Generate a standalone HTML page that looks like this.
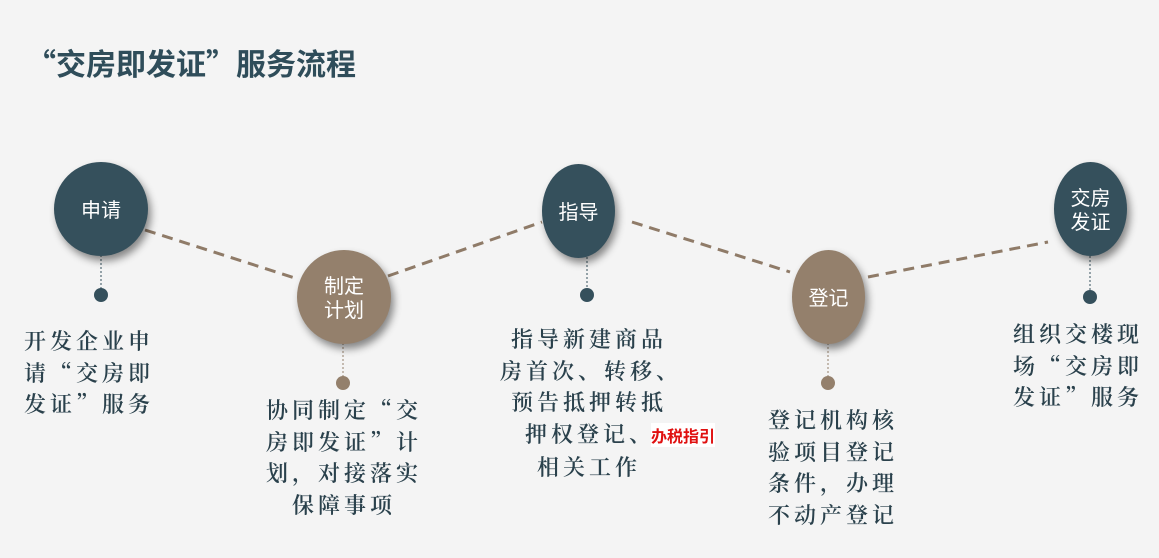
<!DOCTYPE html>
<html><head><meta charset="utf-8"><style>
body{margin:0;width:1159px;height:558px;overflow:hidden;background:#f4f4f4;font-family:"Liberation Sans","Noto Serif CJK SC","Noto Sans CJK SC",serif;}
.t{position:absolute;color:#2a414c;font-size:22px;line-height:31.5px;letter-spacing:4px;font-family:"Noto Serif CJK SC","WenQuanYi Zen Hei",serif;white-space:nowrap;font-weight:600}
.c{position:absolute;color:#fff;font-size:20px;line-height:24px;text-align:center;font-family:"Noto Sans CJK SC",sans-serif;display:flex;align-items:center;justify-content:center;border-radius:50%;box-shadow:3px 5px 8px rgba(0,0,0,.45)}
.d{background:#35505c}.b{background:#94806c}
</style></head><body>
<div style="position:absolute;left:26px;top:40px;font-size:30px;font-weight:bold;color:#2f4d5a;font-family:'Noto Sans CJK SC',sans-serif;">“交房即发证”服务流程</div>
<svg width="1159" height="558" style="position:absolute;left:0;top:0">
<g stroke="#8f7b68" stroke-width="3" stroke-dasharray="11,7" fill="none">
<line x1="145" y1="230" x2="298" y2="279"/>
<line x1="388" y1="276" x2="542" y2="222"/>
<line x1="632" y1="222" x2="790" y2="272"/>
<line x1="868" y1="277" x2="1048" y2="242"/>
</g>
<g stroke-width="1" stroke-dasharray="2,2">
<line x1="101" y1="255" x2="101" y2="293" stroke="#35505c"/>
<line x1="343" y1="343" x2="343" y2="381" stroke="#94806c"/>
<line x1="587" y1="257" x2="587" y2="293" stroke="#35505c"/>
<line x1="828" y1="343" x2="828" y2="381" stroke="#94806c"/>
<line x1="1090" y1="256" x2="1090" y2="295" stroke="#35505c"/>
</g>
<circle cx="101" cy="295" r="7" fill="#35505c"/>
<circle cx="343" cy="383" r="7" fill="#94806c"/>
<circle cx="587" cy="295" r="7" fill="#35505c"/>
<circle cx="828" cy="383" r="7" fill="#94806c"/>
<circle cx="1090" cy="297" r="7" fill="#35505c"/>
</svg>
<div class="c d" style="left:54px;top:162px;width:94px;height:94px">申请</div>
<div class="c b" style="left:297px;top:250px;width:94px;height:94px">制定<br>计划</div>
<div class="c d" style="left:542px;top:164px;width:73px;height:94px">指导</div>
<div class="c b" style="left:792px;top:250px;width:73px;height:94px">登记</div>
<div class="c d" style="left:1054px;top:162px;width:73px;height:94px">交房<br>发证</div>
<div class="t" style="left:24px;top:325px">开发企业申<br>请“交房即<br>发证”服务</div>
<div class="t" style="left:266px;top:394px;text-align:center">协同制定“交<br>房即发证”计<br>划，对接落实<br>保障事项</div>
<div class="t" style="left:500px;top:323px;text-align:center;width:178px">指导新建商品<br>房首次、转移、<br>预告抵押转抵<br><div style="text-align:left;margin-left:25px">押权登记<span style="letter-spacing:0">、</span><span style="color:#e01010;font-weight:bold;font-size:16px;letter-spacing:0;font-family:'Noto Sans CJK SC',sans-serif;background:#fff">办税指引</span></div>相关工作</div>
<div class="t" style="left:768px;top:404px">登记机构核<br>验项目登记<br>条件，办理<br>不动产登记</div>
<div class="t" style="left:1013px;top:318px">组织交楼现<br>场“交房即<br>发证”服务</div>
</body></html>
